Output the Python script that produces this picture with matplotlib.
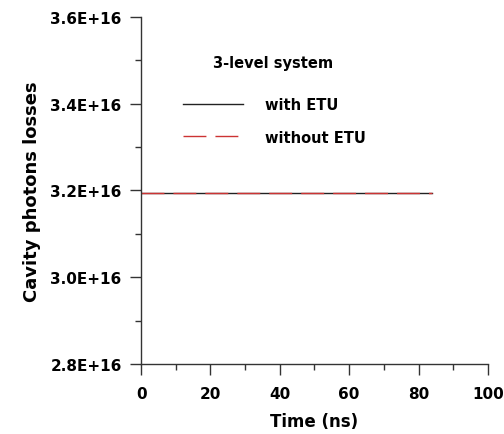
import matplotlib
matplotlib.use("Agg")
import matplotlib.pyplot as plt
from matplotlib.ticker import MultipleLocator, FixedLocator

# data
time_ns = [0, 84]
with_etu = [3.194e16, 3.194e16]
without_etu = [3.194e16, 3.194e16]

ytick_vals = [2.8e16, 3.0e16, 3.2e16, 3.4e16, 3.6e16]
ytick_labels = ["2.8E+16", "3.0E+16", "3.2E+16", "3.4E+16", "3.6E+16"]
xtick_vals = [0, 20, 40, 60, 80, 100]

plt.rcParams['font.family'] = ['DejaVu Sans']

fig = plt.figure(figsize=(5.04, 4.35), dpi=100)
ax = fig.add_axes([0.280, 0.161, 0.688, 0.798])

ax.plot(time_ns, with_etu, color='#222222', lw=1.0, label='with ETU')
ax.plot(time_ns, without_etu, color='#cc3333', lw=1.0, dashes=(16.5, 6.5), label='without ETU')

ax.set_xlim(0, 100)
ax.set_ylim(2.8e16, 3.6e16)
ax.xaxis.set_major_locator(FixedLocator(xtick_vals))
ax.xaxis.set_minor_locator(MultipleLocator(10))
ax.yaxis.set_major_locator(FixedLocator(ytick_vals))
ax.yaxis.set_minor_locator(MultipleLocator(0.1e16))
ax.set_yticklabels(ytick_labels)
ax.set_xticklabels([str(v) for v in xtick_vals])

for s in ['top', 'right']:
    ax.spines[s].set_visible(False)
for s in ['left', 'bottom']:
    ax.spines[s].set_color('#333333')
    ax.spines[s].set_linewidth(1.0)

ax.tick_params(which='major', direction='out', length=8, width=1.0, color='#333333',
               labelsize=11, pad=6)
ax.tick_params(which='minor', direction='out', length=4.2, width=1.0, color='#333333')
ax.tick_params(axis='x', which='major', pad=8)
for lab in ax.get_xticklabels() + ax.get_yticklabels():
    lab.set_fontweight('bold')

ax.set_xlabel('Time (ns)', fontsize=12, fontweight='bold', labelpad=8)
ax.set_ylabel('Cavity photons losses', fontsize=13, fontweight='bold', labelpad=7)

ax.text(0.2075, 0.869, '3-level system', transform=ax.transAxes, fontsize=10.5,
        fontweight='bold', va='center', ha='left')
leg = ax.legend(loc='upper left', bbox_to_anchor=(0.084, 0.806), frameon=False,
                handlelength=4.1, handletextpad=1.5, labelspacing=1.18,
                prop={'size': 10.5, 'weight': 'bold'})

fig.savefig('out.png', dpi=100)
